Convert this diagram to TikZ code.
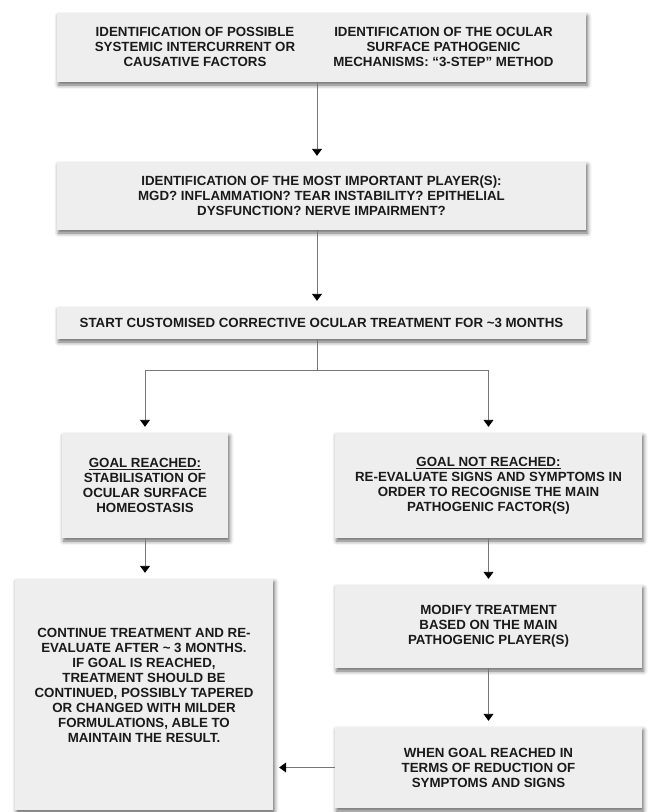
\documentclass[tikz,border=0pt]{standalone}
\usepackage{fontspec}
\setmainfont{Liberation Sans}
\usetikzlibrary{arrows.meta,shadows.blur,calc}
\definecolor{boxfill}{HTML}{EEEEEE}
\definecolor{txt}{HTML}{1A1A1A}
\definecolor{conn}{HTML}{777777}
\tikzset{
  flowbox/.style={draw=none,fill=boxfill,inner sep=0pt,
    blur shadow={shadow xshift=1.5pt,shadow yshift=-3pt,shadow blur radius=4pt,shadow opacity=60}},
  lbl/.style={text=txt,align=center,inner sep=0pt,
    font=\fontsize{13.3}{15}\selectfont\bfseries},
  cline/.style={draw=conn,line width=0.9pt},
  carrow/.style={cline,-{Triangle[width=10pt,length=7pt,black]},shorten >=6pt}
}
\begin{document}
\begin{tikzpicture}[x=1pt,y=-1pt]
\useasboundingbox (0,0) rectangle (649,812);
% boxes
\node[flowbox,minimum width=529pt,minimum height=69pt] (top) at (321.5,47.5) {};
\node[lbl] (topl) at (195,47) {IDENTIFICATION OF POSSIBLE\\SYSTEMIC INTERCURRENT OR\\CAUSATIVE FACTORS};
\node[lbl] (topr) at (443.5,47) {IDENTIFICATION OF THE OCULAR\\SURFACE PATHOGENIC\\MECHANISMS: “3-STEP” METHOD};
\node[flowbox,minimum width=529pt,minimum height=68pt] (sec) at (321.5,196) {};
\node[lbl] at (sec.center) {IDENTIFICATION OF THE MOST IMPORTANT PLAYER(S):\\MGD? INFLAMMATION? TEAR INSTABILITY? EPITHELIAL\\DYSFUNCTION? NERVE IMPAIRMENT?};
\node[flowbox,minimum width=529pt,minimum height=32pt] (third) at (321.5,323) {};
\node[lbl] at (third.center) {START CUSTOMISED CORRECTIVE OCULAR TREATMENT FOR \textasciitilde3 MONTHS};
\node[flowbox,minimum width=166pt,minimum height=105pt] (gl) at (145,485.5) {};
\node[lbl] at (gl.center) {\underline{GOAL REACHED:}\\STABILISATION OF\\OCULAR SURFACE\\HOMEOSTASIS};
\node[flowbox,minimum width=307pt,minimum height=105pt] (gr) at (488.5,485.5) {};
\node[lbl] at (gr.center) {\underline{GOAL NOT REACHED:}\\RE-EVALUATE SIGNS AND SYMPTOMS IN\\ORDER TO RECOGNISE THE MAIN\\PATHOGENIC FACTOR(S)};
\node[flowbox,minimum width=258pt,minimum height=231pt] (cont) at (144,694.5) {};
\node[lbl] at (144,685) {CONTINUE TREATMENT AND RE-\\EVALUATE AFTER \textasciitilde{} 3 MONTHS.\\IF GOAL IS REACHED,\\TREATMENT SHOULD BE\\CONTINUED, POSSIBLY TAPERED\\OR CHANGED WITH MILDER\\FORMULATIONS, ABLE TO\\MAINTAIN THE RESULT.};
\node[flowbox,minimum width=307pt,minimum height=83pt] (mod) at (488.5,626.5) {};
\node[lbl] at (mod.center) {MODIFY TREATMENT\\BASED ON THE MAIN\\PATHOGENIC PLAYER(S)};
\node[flowbox,minimum width=307pt,minimum height=81pt] (when) at (488.5,767.5) {};
\node[lbl] at (when.center) {WHEN GOAL REACHED IN\\TERMS OF REDUCTION OF\\SYMPTOMS AND SIGNS};
% connectors
\coordinate (cx) at (317,0);
\coordinate (sy) at (0,370);
\draw[carrow] (top.south -| cx) -- (sec.north -| cx);
\draw[carrow] (sec.south -| cx) -- (third.north -| cx);
\draw[cline] (third.south -| cx) -- (cx |- sy);
\draw[cline] (gl.north |- sy) -- (gr.north |- sy);
\draw[carrow] (gl.north |- sy) -- (gl.north);
\draw[carrow] (gr.north |- sy) -- (gr.north);
\draw[carrow] (gl.south) -- (gl.south |- cont.north);
\draw[carrow] (gr.south) -- (mod.north);
\draw[carrow] (mod.south) -- (when.north);
\draw[carrow] (when.west) -- (when.west -| cont.east);
\end{tikzpicture}
\end{document}
